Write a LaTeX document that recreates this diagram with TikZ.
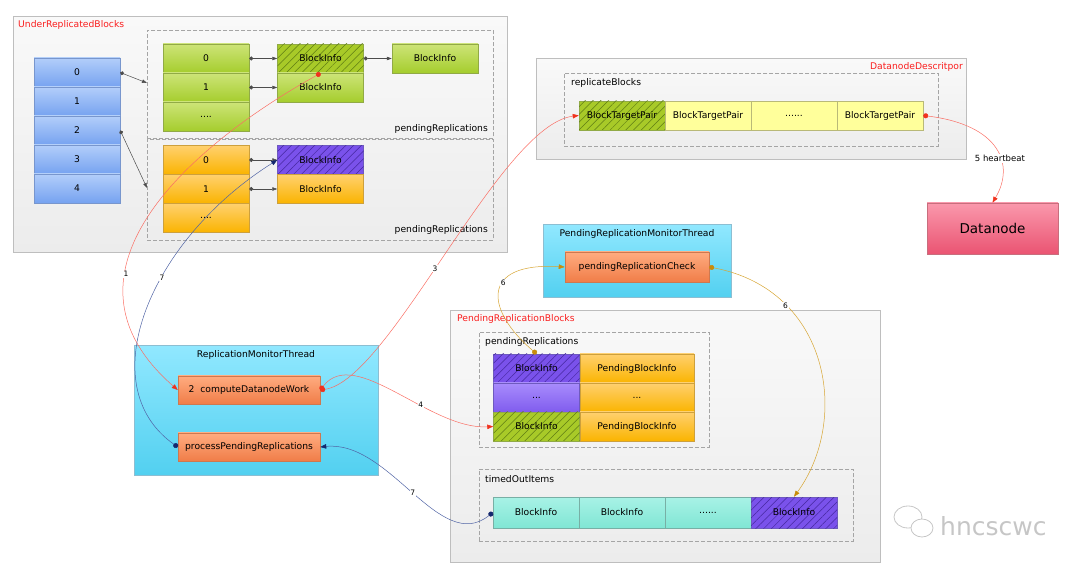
\documentclass[tikz,border=0pt]{standalone}
\usepackage{fontspec}
\setmainfont{DejaVu Sans}
\usetikzlibrary{arrows.meta,patterns.meta}
\definecolor{boxedge}{RGB}{190,190,190}
\definecolor{boxtop}{RGB}{249,249,249}
\definecolor{boxbot}{RGB}{236,236,236}
\definecolor{dashgray}{RGB}{165,165,165}
\definecolor{titlered}{RGB}{250,30,30}
\definecolor{bluetop}{RGB}{178,206,250}
\definecolor{bluebot}{RGB}{118,162,240}
\definecolor{blueedge}{RGB}{120,150,205}
\definecolor{greentop}{RGB}{205,228,120}
\definecolor{greenbot}{RGB}{165,205,45}
\definecolor{greenedge}{RGB}{145,170,70}
\definecolor{greenhatch}{RGB}{168,202,40}
\definecolor{greenline}{RGB}{95,125,20}
\definecolor{orangetop}{RGB}{255,208,110}
\definecolor{orangebot}{RGB}{250,180,0}
\definecolor{orangeedge}{RGB}{205,160,60}
\definecolor{purplefill}{RGB}{122,82,235}
\definecolor{purpleline}{RGB}{70,40,160}
\definecolor{purpletop}{RGB}{168,140,252}
\definecolor{purplebot}{RGB}{128,92,238}
\definecolor{purpleedge}{RGB}{110,90,190}
\definecolor{yellowfill}{RGB}{255,255,155}
\definecolor{yellowedge}{RGB}{185,185,120}
\definecolor{tealtop}{RGB}{168,242,230}
\definecolor{tealbot}{RGB}{128,230,212}
\definecolor{tealedge}{RGB}{120,175,165}
\definecolor{cyantop}{RGB}{145,232,255}
\definecolor{cyanbot}{RGB}{82,208,240}
\definecolor{cyanedge}{RGB}{140,190,210}
\definecolor{functop}{RGB}{255,172,128}
\definecolor{funcbot}{RGB}{240,125,72}
\definecolor{funcedge}{RGB}{205,120,80}
\definecolor{nodetop}{RGB}{250,152,172}
\definecolor{nodebot}{RGB}{234,84,114}
\definecolor{nodeedge}{RGB}{200,110,125}
\definecolor{linered}{RGB}{250,110,100}
\definecolor{dotred}{RGB}{240,50,30}
\definecolor{lineblue}{RGB}{80,100,165}
\definecolor{dotblue}{RGB}{20,40,110}
\definecolor{linegold}{RGB}{215,165,50}
\definecolor{dotgold}{RGB}{200,140,10}

\begin{document}
\begin{tikzpicture}[x=1pt, y=-1pt, font=\fontsize{9.2}{11}\selectfont,
  frame/.style={draw=boxedge, line width=0.6pt, top color=boxtop, bottom color=boxbot, anchor=north west, inner sep=0pt},
  group/.style={draw=dashgray, dash pattern=on 4pt off 2pt, line width=0.6pt, anchor=north west, inner sep=0pt},
  title/.style={text=titlered, inner sep=0pt},
  caption/.style={inner sep=0pt},
  cell/.style={line width=0.5pt, inner sep=0pt, minimum width=86pt, minimum height=29pt},
  hatch/.style={postaction={pattern={Lines[angle=45,distance=5.5pt,line width=0.5pt]}, pattern color=#1}},
  bluecell/.style={cell, draw=blueedge, top color=bluetop, bottom color=bluebot},
  greencell/.style={cell, draw=greenedge, top color=greentop, bottom color=greenbot},
  orangecell/.style={cell, draw=orangeedge, top color=orangetop, bottom color=orangebot},
  purplecell/.style={cell, draw=purpleedge, top color=purpletop, bottom color=purplebot},
  yellowcell/.style={cell, draw=yellowedge, fill=yellowfill},
  tealcell/.style={cell, draw=tealedge, top color=tealtop, bottom color=tealbot},
  hatchgreen/.style={cell, draw=greenedge, fill=greenhatch, hatch=greenline},
  hatchpurple/.style={cell, draw=purpleedge, fill=purplefill, hatch=purpleline},
  thread/.style={draw=cyanedge, line width=0.6pt, top color=cyantop, bottom color=cyanbot, anchor=north west, inner sep=0pt},
  func/.style={draw=funcedge, line width=0.5pt, top color=functop, bottom color=funcbot, inner sep=0pt},
  datanode/.style={draw=nodeedge, line width=0.6pt, top color=nodetop, bottom color=nodebot, minimum width=131pt, minimum height=51pt, font=\fontsize{13.5}{16}\selectfont},
  arr/.style={draw=black!70, line width=0.5pt, {Circle[length=4pt]}-{Triangle[length=5pt,width=3.5pt]}},
  redflow/.style={draw=linered, line width=0.5pt, {Circle[length=5pt,color=dotred]}-{Triangle[length=6pt,width=4.5pt,color=dotred]}},
  blueflow/.style={draw=lineblue, line width=0.5pt, {Circle[length=5pt,color=dotblue]}-{Triangle[length=6pt,width=4.5pt,color=dotblue]}},
  goldflow/.style={draw=linegold, line width=0.5pt, {Circle[length=5pt,color=dotgold]}-{Triangle[length=6pt,width=4.5pt,color=dotgold]}},
  num/.style={font=\fontsize{7.5}{9}\selectfont, fill=white, inner sep=0.8pt},
]
\useasboundingbox (0,0) rectangle (1080,569);

% UnderReplicatedBlocks
\node[frame, minimum width=494pt, minimum height=236pt] (urb) at (13,16) {};
\node[title, anchor=west] at (18,25) {UnderReplicatedBlocks};
\node[group, minimum width=346pt, minimum height=108pt] (upper) at (147,30) {};
\node[group, minimum width=346pt, minimum height=101pt] (lower) at (147,139) {};
\node[caption, anchor=east] at (488,129) {pendingReplications};
\node[caption, anchor=east] at (488,230) {pendingReplications};
\coordinate (upin) at (147,83);
\coordinate (lowin) at (147,188);

\foreach \i in {0,...,4}
  \node[bluecell] (ub\i) at (77,{72.5+29*\i}) {\i};

\node[greencell] (g0) at (206,58.5) {0};
\node[greencell] (g1) at (206,87.5) {1};
\node[greencell] (g2) at (206,116.5) {....};
\node[hatchgreen] (gb0) at (320.5,58.5) {BlockInfo};
\node[greencell] (gb1) at (320.5,87.5) {BlockInfo};
\node[greencell] (gb2) at (435,58.5) {BlockInfo};

\node[orangecell] (o0) at (206,160) {0};
\node[orangecell] (o1) at (206,189) {1};
\node[orangecell] (o2) at (206,218) {....};
\node[hatchpurple] (ob0) at (320.5,160) {BlockInfo};
\node[orangecell] (ob1) at (320.5,189) {BlockInfo};

\draw[arr] (ub0.east) -- (upin);
\draw[arr] (ub2.east) -- (lowin);
\draw[arr] (g0.east) -- (gb0.west);
\draw[arr] (g1.east) -- (gb1.west);
\draw[arr] (gb0.east) -- (gb2.west);
\draw[arr] (o0.east) -- (ob0.west);
\draw[arr] (o1.east) -- (ob1.west);

% DatanodeDescritpor
\node[frame, minimum width=430pt, minimum height=101pt] (dd) at (536,58) {};
\node[title, anchor=east] at (963,67) {DatanodeDescritpor};
\node[group, minimum width=374pt, minimum height=73pt] (rb) at (564,73) {};
\node[caption, anchor=west] at (571,83) {replicateBlocks};
\node[hatchgreen] (bt1) at (622,115.5) {BlockTargetPair};
\node[yellowcell] (bt2) at (708,115.5) {BlockTargetPair};
\node[yellowcell] (bt3) at (794,115.5) {......};
\node[yellowcell] (bt4) at (880,115.5) {BlockTargetPair};

\node[datanode] (dn) at (992.5,228.5) {Datanode};

% PendingReplicationMonitorThread
\node[thread, minimum width=188pt, minimum height=73pt] (prmt) at (543,224) {};
\node[caption] at (637,234) {PendingReplicationMonitorThread};
\node[func, minimum width=144pt, minimum height=30pt] (check) at (637,267) {pendingReplicationCheck};

% PendingReplicationBlocks
\node[frame, minimum width=430pt, minimum height=252pt] (prb) at (450,310) {};
\node[title, anchor=west] at (457,319) {PendingReplicationBlocks};
\node[group, minimum width=230pt, minimum height=115pt] (prmap) at (479,332) {};
\node[caption, anchor=west] at (485,342) {pendingReplications};
\node[hatchpurple] (pk0) at (536.5,368.5) {BlockInfo};
\node[purplecell] (pk1) at (536.5,397.5) {...};
\node[hatchgreen] (pk2) at (536.5,426.5) {BlockInfo};
\node[orangecell, minimum width=114pt] (pv0) at (637,368.5) {PendingBlockInfo};
\node[orangecell, minimum width=114pt] (pv1) at (637,397.5) {...};
\node[orangecell, minimum width=114pt] (pv2) at (637,426.5) {PendingBlockInfo};
\node[group, minimum width=374pt, minimum height=72pt] (tout) at (479,469) {};
\node[caption, anchor=west] at (485,479) {timedOutItems};
\node[tealcell, minimum height=31pt] (t1) at (536,512.5) {BlockInfo};
\node[tealcell, minimum height=31pt] (t2) at (622,512.5) {BlockInfo};
\node[tealcell, minimum height=31pt] (t3) at (708,512.5) {......};
\node[hatchpurple, minimum height=31pt] (t4) at (794,512.5) {BlockInfo};

% ReplicationMonitorThread
\node[thread, minimum width=244pt, minimum height=130pt] (rmt) at (134,345) {};
\node[caption] at (256,355) {ReplicationMonitorThread};
\node[func, minimum width=142pt, minimum height=28pt] (compute) at (249,390) {2\ \ computeDatanodeWork};
\node[func, minimum width=142pt, minimum height=28pt] (process) at (249,447) {processPendingReplications};

% flows
\draw[redflow] (gb0.south) .. controls (200,140) and (40,270) .. node[num, pos=0.68] {1} (compute.west);
\draw[redflow] (compute.east) .. controls (390,380) and (500,125) .. node[num, pos=0.46] {3} (bt1.west);
\draw[redflow] (compute.east) .. controls (355,345) and (430,430) .. node[num, pos=0.63] {4} (pk2.west);
\draw[redflow] (bt4.east) .. controls (1000,125) and (1015,165) .. node[num, pos=0.6, font=\fontsize{8.5}{10}\selectfont] {5 heartbeat} (dn.north);
\draw[goldflow] (pk0.north) .. controls (485,310) and (480,262) .. node[num, pos=0.6] {6} (check.west);
\draw[goldflow] (check.east) .. controls (830,290) and (850,420) .. node[num, pos=0.27] {6} (t4.north);
\draw[blueflow] (process.west) .. controls (90,385) and (150,240) .. node[num, pos=0.6] {7} (ob0.west);
\draw[blueflow] (t1.west) .. controls (440,555) and (390,440) .. node[num, pos=0.5] {7} (process.east);

% watermark
\draw[gray!45, line width=0.8pt] (908,517) ellipse [x radius=14pt, y radius=11pt];
\draw[gray!45, line width=0.8pt, fill=white] (922,528) ellipse [x radius=11pt, y radius=9pt];
\node[text=gray!45, font=\fontsize{25}{30}\selectfont, anchor=base west, inner sep=0pt] (mark) at (940,535) {hncscwc};
\end{tikzpicture}
\end{document}
